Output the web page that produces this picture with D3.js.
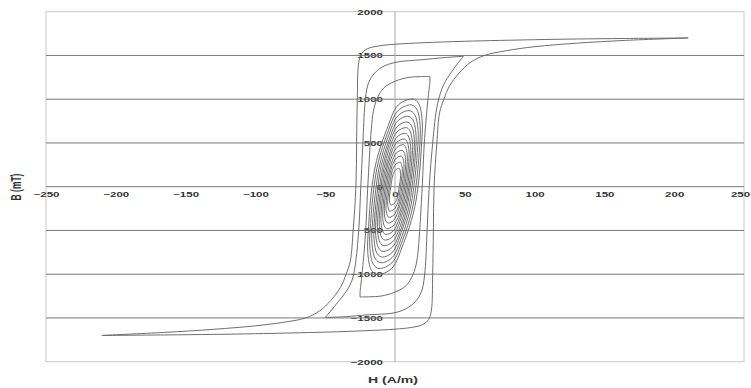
<!DOCTYPE html>
<html>
<head>
<meta charset="utf-8">
<script src="https://cdn.jsdelivr.net/npm/d3@7"></script>
<style>
  html, body { margin: 0; padding: 0; background: #fff; }
  svg { display: block; font-family: "Liberation Sans", Arial, sans-serif; }
</style>
</head>
<body>
<div id="chart"></div>
<script>
// axis settings
const xTicks = [-250, -200, -150, -100, -50, 0, 50, 100, 150, 200, 250]
const yTicks = [-2000, -1500, -1000, -500, 0, 500, 1000, 1500, 2000]
const xTitle = 'H (A/m)'
const yTitle = 'B (mT)'

// major loop, [H, B]
const outerDown = [[210,1700],[165,1694],[130,1688],[100,1680],[50,1662],[20,1645],[0,1628],[-12,1608],[-20,1575],[-24,1520],[-26,1420],[-27,1000],[-27.5,500],[-28,0],[-30,-500],[-32,-850],[-35,-1000],[-39,-1150],[-46,-1300],[-54,-1420],[-64,-1500],[-80,-1550],[-100,-1590],[-130,-1630],[-165,-1665],[-210,-1700]]
const outerUp = [[-210,-1700],[-165,-1694],[-130,-1688],[-100,-1680],[-50,-1662],[-20,-1645],[0,-1628],[12,-1608],[20,-1575],[24,-1520],[26,-1420],[27,-1000],[27.5,-500],[28,0],[30,500],[32,850],[35,1000],[39,1150],[46,1300],[54,1420],[64,1500],[80,1555],[100,1600],[130,1640],[165,1672],[210,1700]]

// second loop
const loop2Down = [[49,1490],[35,1475],[20,1452],[0,1420],[-10,1360],[-16,1270],[-19.5,1160],[-21.5,950],[-23,500],[-24.5,0],[-26,-500],[-28.5,-900],[-31,-1080],[-35,-1200],[-41,-1320],[-46,-1420],[-50,-1495]]
const loop2Up = [[-50,-1495],[-35,-1485],[-20,-1465],[0,-1440],[10,-1375],[16,-1285],[19.5,-1170],[21.5,-960],[23,-500],[24.5,0],[27,500],[30.5,950],[35,1170],[40,1300],[45,1410],[49,1490]]

// third loop
const loop3Down = [[25,1260],[18,1258],[10,1250],[0,1205],[-8,1130],[-13,1000],[-15.5,860],[-17,650],[-19.5,0],[-21,-500],[-23,-900],[-24.3,-1100],[-25,-1200],[-25,-1260]]
const loop3Up = [[-25,-1260],[-18,-1258],[-10,-1250],[0,-1205],[8,-1130],[13,-1000],[15.5,-860],[17,-650],[19.5,0],[21,500],[23,900],[24.3,1100],[25,1200],[25,1260]]

// minor loops (closed)
const minorLoops = [
  [[13,1002],[2.4,935],[-6,650],[-13.2,300],[-16.5,0],[-18.9,-450],[-19.5,-750],[-17,-950],[-13,-1002],[-2.4,-935],[6,-650],[13.2,-300],[16.5,0],[18.9,450],[19.5,750],[17,950]],
  [[11.5,935],[2.2,870],[-5.5,608],[-12,280],[-15,0],[-17.5,-421],[-18,-701],[-15.5,-888],[-11.5,-935],[-2.2,-870],[5.5,-608],[12,-280],[15,0],[17.5,421],[18,701],[15.5,888]],
  [[10,870],[2,809],[-5,566],[-10.8,261],[-13.5,0],[-16,-392],[-16.5,-653],[-14,-827],[-10,-870],[-2,-809],[5,-566],[10.8,-261],[13.5,0],[16,392],[16.5,653],[14,827]],
  [[9,805],[1.8,749],[-4.5,523],[-9.8,242],[-12.2,0],[-14.6,-362],[-15,-604],[-12.8,-765],[-9,-805],[-1.8,-749],[4.5,-523],[9.8,-242],[12.2,0],[14.6,362],[15,604],[12.8,765]],
  [[8.5,740],[1.7,688],[-4.3,481],[-8.8,222],[-11,0],[-13.4,-333],[-13.8,-555],[-11.7,-703],[-8.5,-740],[-1.7,-688],[4.3,-481],[8.8,-222],[11,0],[13.4,333],[13.8,555],[11.7,703]],
  [[8,675],[1.6,628],[-4,439],[-8,203],[-10,0],[-12.1,-304],[-12.5,-506],[-10.6,-641],[-8,-675],[-1.6,-628],[4,-439],[8,-203],[10,0],[12.1,304],[12.5,506],[10.6,641]],
  [[7,610],[1.4,567],[-3.5,397],[-7.2,183],[-9,0],[-10.9,-275],[-11.2,-458],[-9.5,-580],[-7,-610],[-1.4,-567],[3.5,-397],[7.2,-183],[9,0],[10.9,275],[11.2,458],[9.5,580]],
  [[6.5,545],[1.3,507],[-3.3,354],[-6.4,164],[-8,0],[-9.7,-245],[-10,-409],[-8.5,-518],[-6.5,-545],[-1.3,-507],[3.3,-354],[6.4,-164],[8,0],[9.7,245],[10,409],[8.5,518]],
  [[6,480],[1.2,446],[-3,312],[-5.6,144],[-7,0],[-8.5,-216],[-8.8,-360],[-7.5,-456],[-6,-480],[-1.2,-446],[3,-312],[5.6,-144],[7,0],[8.5,216],[8.8,360],[7.5,456]],
  [[5,415],[1,386],[-2.5,270],[-4.8,125],[-6,0],[-7.4,-187],[-7.6,-311],[-6.5,-394],[-5,-415],[-1,-386],[2.5,-270],[4.8,-125],[6,0],[7.4,187],[7.6,311],[6.5,394]],
  [[4.5,350],[0.9,326],[-2.3,228],[-4,105],[-5,0],[-6.2,-158],[-6.4,-263],[-5.4,-333],[-4.5,-350],[-0.9,-326],[2.3,-228],[4,-105],[5,0],[6.2,158],[6.4,263],[5.4,333]],
  [[4,280],[0.8,260],[-2,182],[-3.2,84],[-4,0],[-5,-126],[-5.2,-210],[-4.4,-266],[-4,-280],[-0.8,-260],[2,-182],[3.2,-84],[4,0],[5,126],[5.2,210],[4.4,266]],
  [[3,210],[0.6,195],[-1.5,137],[-2.4,63],[-3,0],[-3.9,-95],[-4,-158],[-3.4,-200],[-3,-210],[-0.6,-195],[1.5,-137],[2.4,-63],[3,0],[3.9,95],[4,158],[3.4,200]]
]

const width = 751
const height = 388
const plot = { left: 46, right: 744, top: 11.7, bottom: 361.7 }
const stretch = 1.65 // the picture's text is wide and flat

const svg = d3.select('#chart').append('svg')
  .attr('width', width)
  .attr('height', height)

const x = d3.scaleLinear().domain([-250, 250]).range([plot.left, plot.right])
const y = d3.scaleLinear().domain([-2000, 2000]).range([plot.bottom, plot.top])

// plot frame
svg.append('rect')
  .attr('x', plot.left).attr('y', plot.top)
  .attr('width', plot.right - plot.left).attr('height', plot.bottom - plot.top)
  .attr('fill', 'none').attr('stroke', '#c8c8c8').attr('stroke-width', 1)

// x tick labels along B = 0
const xAxis = svg.append('g')
  .attr('transform', `translate(0,${y(0)})`)
  .call(d3.axisBottom(x).tickValues(xTicks).tickSize(0).tickFormat(d3.format('d')))
xAxis.select('.domain').remove()
xAxis.selectAll('text')
  .attr('y', 10.5).attr('dy', 0)
  .attr('x', d => d === 250 ? -4 / stretch : 0) // keep the last label inside the window
  .attr('transform', `scale(${stretch},1)`)
  .attr('font-size', 7).attr('font-weight', 'bold').attr('fill', '#333')
  .attr('font-family', '"Liberation Sans", Arial, sans-serif')

// y tick labels along H = 0
const yAxis = svg.append('g')
  .attr('transform', `translate(${x(0)},0)`)
  .call(d3.axisLeft(y).tickValues(yTicks).tickSize(0).tickFormat(d3.format('d')))
yAxis.select('.domain').remove()
yAxis.selectAll('text')
  .attr('x', -12 / stretch)
  .attr('dy', '0.36em')
  .attr('transform', `scale(${stretch},1)`)
  .attr('font-size', 7).attr('font-weight', 'bold').attr('fill', '#333')
  .attr('font-family', '"Liberation Sans", Arial, sans-serif')

// gridlines drawn over the labels, as in the picture
svg.append('g')
  .selectAll('line')
  .data(yTicks.filter(d => Math.abs(d) < 2000))
  .enter().append('line')
  .attr('x1', plot.left).attr('x2', plot.right)
  .attr('y1', d => y(d)).attr('y2', d => y(d))
  .attr('stroke', '#7a7a7a').attr('stroke-width', 1)

svg.append('line')
  .attr('x1', x(0)).attr('x2', x(0))
  .attr('y1', plot.top).attr('y2', plot.bottom)
  .attr('stroke', '#a8a8a8').attr('stroke-width', 1)

// loops
const line = d3.line()
  .x(d => x(d[0]))
  .y(d => y(d[1]))
  .curve(d3.curveCatmullRom.alpha(0.5))

const closedLine = d3.line()
  .x(d => x(d[0]))
  .y(d => y(d[1]))
  .curve(d3.curveCatmullRomClosed.alpha(0.5))

const curves = svg.append('g')
  .attr('fill', 'none')
  .attr('stroke', '#666')
  .attr('stroke-width', 0.95)

curves.selectAll('path.branch')
  .data([outerDown, outerUp, loop2Down, loop2Up, loop3Down, loop3Up])
  .enter().append('path')
  .attr('class', 'branch')
  .attr('d', line)

curves.selectAll('path.minor')
  .data(minorLoops)
  .enter().append('path')
  .attr('class', 'minor')
  .attr('d', closedLine)

// axis titles
svg.append('text')
  .attr('transform', `translate(393,382.5) scale(${stretch},1)`)
  .attr('text-anchor', 'middle')
  .attr('font-size', 8.5).attr('font-weight', 'bold').attr('fill', '#333')
  .text(xTitle)

svg.append('text')
  .attr('transform', `translate(21,187) scale(${stretch},1) rotate(-90)`)
  .attr('text-anchor', 'middle')
  .attr('font-size', 8.5).attr('font-weight', 'bold').attr('fill', '#333')
  .text(yTitle)
</script>
</body>
</html>
